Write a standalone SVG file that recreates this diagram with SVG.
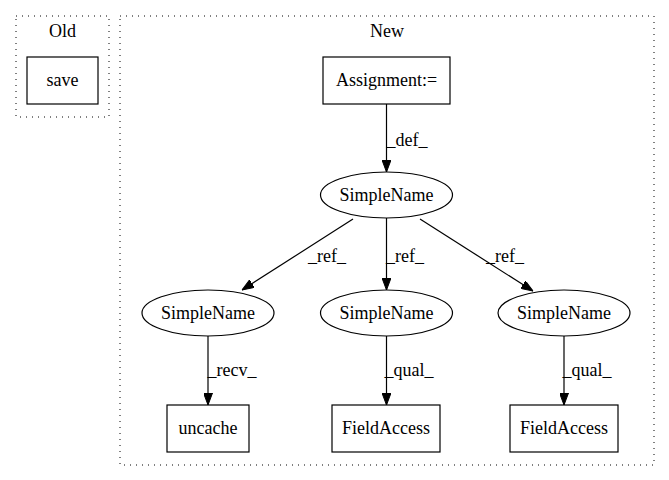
<svg xmlns="http://www.w3.org/2000/svg" width="669" height="480" viewBox="0 0 669 480">
<style>
text{font-family:'Liberation Serif','Times New Roman',Times,serif;font-size:18px;fill:#000;text-anchor:middle}
.cl{fill:none;stroke:#000;stroke-width:1;stroke-dasharray:1,5}
.n{fill:none;stroke:#000;stroke-width:1.2}
.e{fill:none;stroke:#000;stroke-width:1.2;marker-end:url(#ah)}
</style>
<defs>
<marker id="ah" markerWidth="12" markerHeight="9" refX="12" refY="4.5" orient="auto" markerUnits="userSpaceOnUse">
<polygon points="0,0 12,4.5 0,9" fill="#000" stroke="#000"/>
</marker>
</defs>
<rect width="669" height="480" fill="#fff"/>
<g id="cluster_old">
<rect class="cl" x="16" y="16" width="93" height="101"/>
<text x="62.5" y="37">Old</text>
</g>
<g id="cluster_new">
<rect class="cl" x="120" y="16" width="534" height="449"/>
<text x="387" y="37">New</text>
</g>
<g id="save">
<rect class="n" x="27" y="57" width="71" height="47"/>
<text x="62.5" y="86">save</text>
</g>
<g id="assign">
<rect class="n" x="323" y="57" width="127" height="47"/>
<text x="386.5" y="86">Assignment:=</text>
</g>
<g id="sn_main">
<ellipse class="n" cx="386.5" cy="195" rx="66" ry="23"/>
<text x="386.5" y="201">SimpleName</text>
</g>
<g id="sn_left">
<ellipse class="n" cx="208" cy="313" rx="66" ry="23"/>
<text x="208" y="319">SimpleName</text>
</g>
<g id="sn_mid">
<ellipse class="n" cx="386.5" cy="313" rx="66" ry="23"/>
<text x="386.5" y="319">SimpleName</text>
</g>
<g id="sn_right">
<ellipse class="n" cx="564" cy="313" rx="66" ry="23"/>
<text x="564" y="319">SimpleName</text>
</g>
<g id="uncache">
<rect class="n" x="167" y="405" width="82" height="47"/>
<text x="208" y="434">uncache</text>
</g>
<g id="fa_mid">
<rect class="n" x="332" y="405" width="108" height="47"/>
<text x="386" y="434">FieldAccess</text>
</g>
<g id="fa_right">
<rect class="n" x="510" y="405" width="108" height="47"/>
<text x="564" y="434">FieldAccess</text>
</g>
<g id="edges">
<path class="e" d="M386.5,104 L386.5,172"/>
<text x="407" y="146">_def_</text>
<path class="e" d="M353,219 L242,290"/>
<text x="327" y="262">_ref_</text>
<path class="e" d="M386.5,218 L386.5,290"/>
<text x="405" y="262">_ref_</text>
<path class="e" d="M420,219 L533,291"/>
<text x="505" y="262">_ref_</text>
<path class="e" d="M208,336 L208,405"/>
<text x="232" y="376">_recv_</text>
<path class="e" d="M386.5,336 L386.5,405"/>
<text x="409" y="376">_qual_</text>
<path class="e" d="M564,336 L564,405"/>
<text x="587" y="376">_qual_</text>
</g>
</svg>
